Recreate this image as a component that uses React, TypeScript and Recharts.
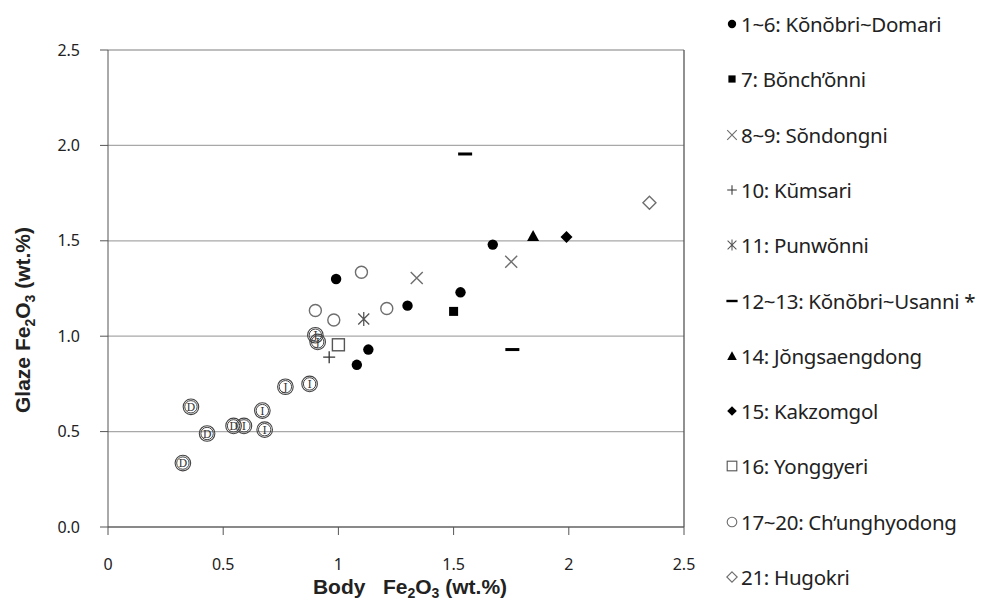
import React from 'react'
import { ScatterChart, Scatter, XAxis, YAxis, CartesianGrid, ReferenceLine } from 'recharts'

type Pt = { x: number; y: number }

// body Fe2O3 (x) vs glaze Fe2O3 (y), wt.%
const domari: Pt[] = [
  { x: 0.99, y: 1.3 },
  { x: 1.3, y: 1.16 },
  { x: 1.53, y: 1.23 },
  { x: 1.67, y: 1.48 },
  { x: 1.13, y: 0.93 },
  { x: 1.08, y: 0.85 },
]
const bonchonni: Pt[] = [{ x: 1.5, y: 1.13 }]
const sondongni: Pt[] = [
  { x: 1.34, y: 1.305 },
  { x: 1.75, y: 1.39 },
]
const kumsari: Pt[] = [{ x: 0.96, y: 0.89 }]
const punwonni: Pt[] = [{ x: 1.11, y: 1.09 }]
const usanni: Pt[] = [
  { x: 1.55, y: 1.955 },
  { x: 1.755, y: 0.93 },
]
const jongsaengdong: Pt[] = [{ x: 1.845, y: 1.525 }]
const kakzomgol: Pt[] = [{ x: 1.99, y: 1.52 }]
const yonggyeri: Pt[] = [{ x: 1.0, y: 0.955 }]
const chunghyodong: Pt[] = [
  { x: 1.1, y: 1.335 },
  { x: 0.9, y: 1.135 },
  { x: 0.98, y: 1.085 },
  { x: 1.21, y: 1.145 },
]
const hugokri: Pt[] = [{ x: 2.35, y: 1.7 }]

// circled-letter samples without legend entry
const groupD: Pt[] = [
  { x: 0.36, y: 0.63 },
  { x: 0.43, y: 0.49 },
  { x: 0.325, y: 0.335 },
  { x: 0.545, y: 0.53 },
]
const groupI: Pt[] = [
  { x: 0.59, y: 0.53 },
  { x: 0.67, y: 0.61 },
  { x: 0.68, y: 0.51 },
  { x: 0.875, y: 0.75 },
]
const groupJ: Pt[] = [
  { x: 0.77, y: 0.735 },
  { x: 0.9, y: 1.005 },
  { x: 0.91, y: 0.97 },
]

const xTicks = [0, 0.5, 1, 1.5, 2, 2.5]
const yTicks = [0, 0.5, 1, 1.5, 2, 2.5]

const GRAY = '#6e6e6e'

const filledCircle = (p: any) => <circle cx={p.cx} cy={p.cy} r={5.2} fill="#000" />
const filledSquare = (p: any) => <rect x={p.cx - 4.5} y={p.cy - 4.5} width={9} height={9} fill="#000" />
const cross = (p: any) => (
  <path d={`M${p.cx - 6},${p.cy - 6}L${p.cx + 6},${p.cy + 6}M${p.cx - 6},${p.cy + 6}L${p.cx + 6},${p.cy - 6}`} stroke={GRAY} strokeWidth={1.4} />
)
const plus = (p: any) => (
  <path d={`M${p.cx - 6},${p.cy}L${p.cx + 6},${p.cy}M${p.cx},${p.cy - 6}L${p.cx},${p.cy + 6}`} stroke="#333" strokeWidth={1.3} />
)
const star = (p: any) => (
  <path
    d={`M${p.cx - 5.5},${p.cy - 5.5}L${p.cx + 5.5},${p.cy + 5.5}M${p.cx - 5.5},${p.cy + 5.5}L${p.cx + 5.5},${p.cy - 5.5}M${p.cx},${p.cy - 7}L${p.cx},${p.cy + 7}`}
    stroke="#555"
    strokeWidth={1.3}
  />
)
const dash = (p: any) => <rect x={p.cx - 7} y={p.cy - 1.5} width={14} height={3} fill="#000" />
const triangle = (p: any) => <path d={`M${p.cx},${p.cy - 6}L${p.cx + 6},${p.cy + 5}L${p.cx - 6},${p.cy + 5}Z`} fill="#000" />
const diamond = (p: any) => <path d={`M${p.cx},${p.cy - 6}L${p.cx + 6},${p.cy}L${p.cx},${p.cy + 6}L${p.cx - 6},${p.cy}Z`} fill="#000" />
const openSquare = (p: any) => (
  <rect x={p.cx - 6} y={p.cy - 6} width={12} height={12} fill="none" stroke="#555" strokeWidth={1.4} />
)
const openCircle = (p: any) => <circle cx={p.cx} cy={p.cy} r={6} fill="none" stroke={GRAY} strokeWidth={1.4} />
const openDiamond = (p: any) => (
  <path d={`M${p.cx},${p.cy - 6.5}L${p.cx + 6.5},${p.cy}L${p.cx},${p.cy + 6.5}L${p.cx - 6.5},${p.cy}Z`} fill="none" stroke={GRAY} strokeWidth={1.4} />
)
const circledLetter = (letter: string) => (p: any) => (
  <g>
    <circle cx={p.cx} cy={p.cy} r={7.8} fill="none" stroke="#444" strokeWidth={1.1} />
    <circle cx={p.cx} cy={p.cy} r={6.2} fill="none" stroke="#444" strokeWidth={1} />
    <text x={p.cx} y={p.cy + 4} textAnchor="middle" fontSize={11} fontFamily="DejaVu Serif" fill="#333">
      {letter}
    </text>
  </g>
)

const series = [
  { name: '1~6: Kŏnŏbri~Domari', data: domari, shape: filledCircle },
  { name: '7: Bŏnch’ŏnni', data: bonchonni, shape: filledSquare },
  { name: '8~9: Sŏndongni', data: sondongni, shape: cross },
  { name: '10: Kŭmsari', data: kumsari, shape: plus },
  { name: '11: Punwŏnni', data: punwonni, shape: star },
  { name: '12~13: Kŏnŏbri~Usanni *', data: usanni, shape: dash },
  { name: '14: Jŏngsaengdong', data: jongsaengdong, shape: triangle },
  { name: '15: Kakzomgol', data: kakzomgol, shape: diamond },
  { name: '16: Yonggyeri', data: yonggyeri, shape: openSquare },
  { name: '17~20: Ch’unghyodong', data: chunghyodong, shape: openCircle },
  { name: '21: Hugokri', data: hugokri, shape: openDiamond },
]

const extra = [
  { name: 'D', data: groupD },
  { name: 'I', data: groupI },
  { name: 'J', data: groupJ },
]

const labelFont = { fontFamily: 'Liberation Sans, Arial, sans-serif', fontWeight: 700, fontSize: 21, fill: '#222' }

const XLabel = () => (
  <text x={410} y={594} textAnchor="middle" {...labelFont}>
    Body{'\u00a0\u00a0\u00a0'}Fe<tspan fontSize={14} dy={4}>2</tspan>
    <tspan dy={-4}>O</tspan>
    <tspan fontSize={14} dy={4}>3</tspan>
    <tspan dy={-4}> (wt.%)</tspan>
  </text>
)

const YLabel = () => (
  <text x={0} y={0} transform="translate(30,320) rotate(-90)" textAnchor="middle" {...labelFont}>
    Glaze Fe<tspan fontSize={14} dy={5}>2</tspan>
    <tspan dy={-5}>O</tspan>
    <tspan fontSize={14} dy={5}>3</tspan>
    <tspan dy={-5}> (wt.%)</tspan>
  </text>
)

const tickStyle = { fill: '#222', fontSize: 16, fontFamily: 'Noto Sans' }

function SideLegend() {
  return (
    <div style={{ position: 'absolute', left: 724, top: 0, width: 261, height: 601, overflow: 'hidden' }}>
      {series.map((s, i) => (
        <div
          key={s.name}
          style={{
            position: 'absolute',
            left: 0,
            top: 24 + i * 55.3 - 15,
            height: 30,
            display: 'flex',
            alignItems: 'center',
            whiteSpace: 'nowrap',
            fontFamily: 'Noto Sans',
            fontSize: 20.5,
            letterSpacing: -0.3,
            color: '#222',
          }}
        >
          <svg width={16} height={16} style={{ marginRight: 1 }}>
            <g transform="translate(8,8) scale(0.8) translate(-8,-8)">{s.shape({ cx: 8, cy: 8 })}</g>
          </svg>
          <span>{s.name}</span>
        </div>
      ))}
    </div>
  )
}

export default function App() {
  return (
    <div style={{ position: 'absolute', left: 0, top: 0, width: 985, height: 601, background: '#fff' }}>
      <ScatterChart width={985} height={601} margin={{ top: 50, right: 301, bottom: 0, left: 0 }}>
        <CartesianGrid vertical={false} stroke="#a8a8a8" strokeWidth={1.3} />
        <XAxis
          type="number"
          dataKey="x"
          domain={[0, 2.5]}
          ticks={xTicks}
          height={74}
          tickSize={8}
          tickMargin={24}
          stroke="#555"
          tick={tickStyle}
          label={{ content: XLabel }}
        />
        <YAxis
          type="number"
          dataKey="y"
          domain={[0, 2.5]}
          ticks={yTicks}
          width={108}
          tickSize={8}
          tickMargin={20}
          stroke="#555"
          tick={tickStyle}
          tickFormatter={(v: number) => v.toFixed(1)}
          label={{ content: YLabel }}
        />
        <ReferenceLine x={2.5} stroke="#555" strokeWidth={1.3} />
        {extra.map((s) => (
          <Scatter key={s.name} name={s.name} data={s.data} shape={circledLetter(s.name)} isAnimationActive={false} />
        ))}
        {series.map((s) => (
          <Scatter key={s.name} name={s.name} data={s.data} shape={s.shape} isAnimationActive={false} />
        ))}
      </ScatterChart>
      <SideLegend />
    </div>
  )
}
